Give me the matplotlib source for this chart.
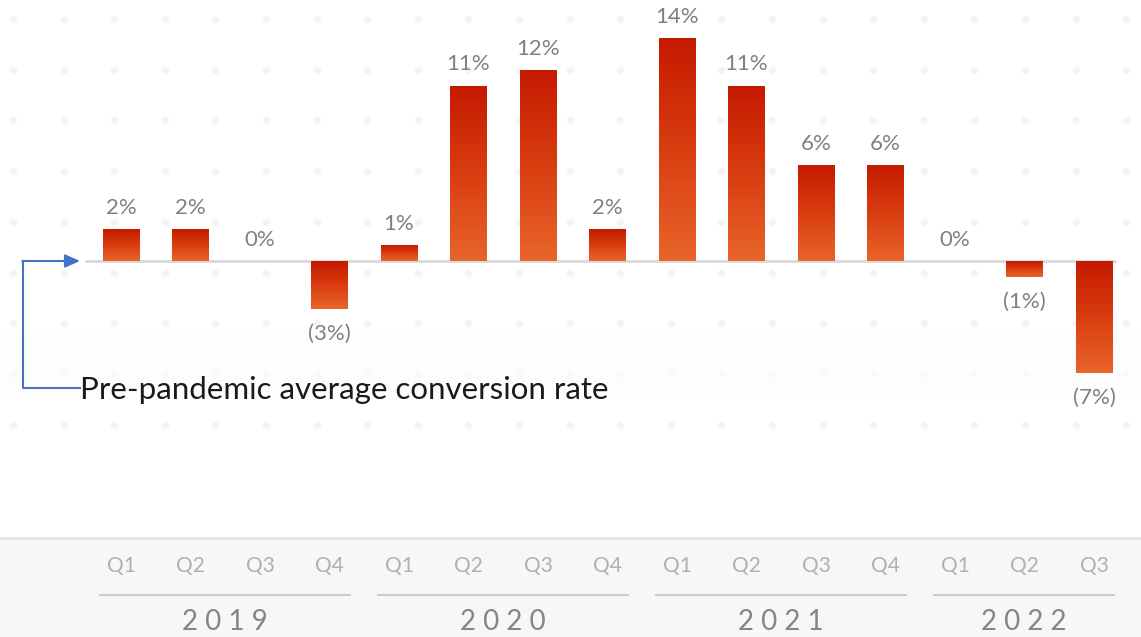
import matplotlib.pyplot as plt
import numpy as np
from matplotlib.colors import LinearSegmentedColormap
from matplotlib.patches import Rectangle

# données
years = ['2019', '2020', '2021', '2022']
quarters = ['Q1', 'Q2', 'Q3', 'Q4', 'Q1', 'Q2', 'Q3', 'Q4',
            'Q1', 'Q2', 'Q3', 'Q4', 'Q1', 'Q2', 'Q3']
year_of_bar = [0, 0, 0, 0, 1, 1, 1, 1, 2, 2, 2, 2, 3, 3, 3]
values = [2, 2, 0, -3, 1, 11, 12, 2, 14, 11, 6, 6, 0, -1, -7]
note = 'Pre-pandemic average conversion rate'

W, H = 1141, 637
fig = plt.figure(figsize=(W / 100, H / 100), dpi=100)
ax = fig.add_axes([0, 0, 1, 1])
ax.axis('off')

# fond en pointillés
dx = np.arange(13, W, 50.6)
dy = np.arange(19, 430, 50.7)
gx, gy = np.meshgrid(dx, dy)
ax.scatter(gx.ravel() / W, 1 - gy.ravel() / H, s=30, color='#f4f4f4',
           transform=fig.transFigure, zorder=0, linewidths=0)
ax.add_patch(Rectangle((0, 1 - 400 / H), 1, 68 / H, transform=fig.transFigure,
                       color='#fdfdfd', alpha=0.6, zorder=0.5, lw=0))

# bandeau du bas
ax.add_patch(Rectangle((0, 0), 1, 1 - 538 / H, transform=fig.transFigure,
                       facecolor='#f7f7f7', edgecolor='none', zorder=1))
ax.plot([0, 1], [1 - 538 / H] * 2, transform=fig.transFigure,
        color='#e6e6e6', lw=2, zorder=1.5)

x = np.arange(len(values))
w = 0.53
cmap = LinearSegmentedColormap.from_list('grad', ['#e8652b', '#d93d10', '#c41a00'])
grad = np.linspace(0, 1, 256).reshape(-1, 1)

bars = ax.bar(x, values, width=w, color='none', zorder=2)
for b, xi, v in zip(bars, x, values):
    if v == 0:
        continue
    im = ax.imshow(grad, cmap=cmap, origin='lower', aspect='auto',
                   extent=(xi - w / 2, xi + w / 2, min(0, v), max(0, v)), zorder=2)
    im.set_clip_path(b)

ax.plot([-0.504, 14.30], [0, 0], color='#d9d9d9', lw=2, zorder=1.8)

for xi, v in zip(x, values):
    if v >= 0:
        ax.annotate(f'{v:.0f}%', (xi, v), xytext=(0, 11), textcoords='offset points',
                    ha='center', va='baseline', fontsize=16, color='#808080',
                    family='Lato')
    else:
        ax.annotate(f'({abs(v):.0f}%)', (xi, v), xytext=(0, -11), textcoords='offset points',
                    ha='center', va='top', fontsize=16, color='#808080',
                    family='Lato')

# annotation
blue = '#4472c4'
ax.plot([-0.59, -1.41, -1.41], [-7.97, -7.97, 0], color=blue, lw=1.5, zorder=3)
ax.annotate('', xy=(-0.59, 0), xytext=(-1.42, 0),
            arrowprops=dict(arrowstyle='-|>,head_length=0.9,head_width=0.4',
                            color=blue, lw=1.5, shrinkA=0, shrinkB=0), zorder=3)
ax.text(-0.59, -8.1, note, ha='left', va='center', fontsize=22.5,
        color='#1a1a1a', family='Lato', zorder=3)

# axe des catégories
tr = ax.get_xaxis_transform()
for xi, q in zip(x, quarters):
    ax.text(xi, 1 - 566 / H, q, transform=tr, ha='center', va='center',
            fontsize=15, color='#b0b0b0', family='Lato', zorder=3)

for k, yr in enumerate(years):
    idx = [i for i, g in enumerate(year_of_bar) if g == k]
    x0, x1 = idx[0] - 0.3, idx[-1] + 0.29
    ax.plot([x0, x1], [1 - 595 / H] * 2, transform=tr, color='#cccccc', lw=1.5, zorder=3)
    ax.text((x0 + x1) / 2, 1 - 622 / H, ' '.join(yr), transform=tr, ha='center',
            va='center', fontsize=20, color='#858585', family='Lato', zorder=3)

ax.set_xlim(-1.741, 14.676)
ax.set_ylim(-23.60, 16.38)

fig.savefig('out.png', dpi=100)
plt.close()
